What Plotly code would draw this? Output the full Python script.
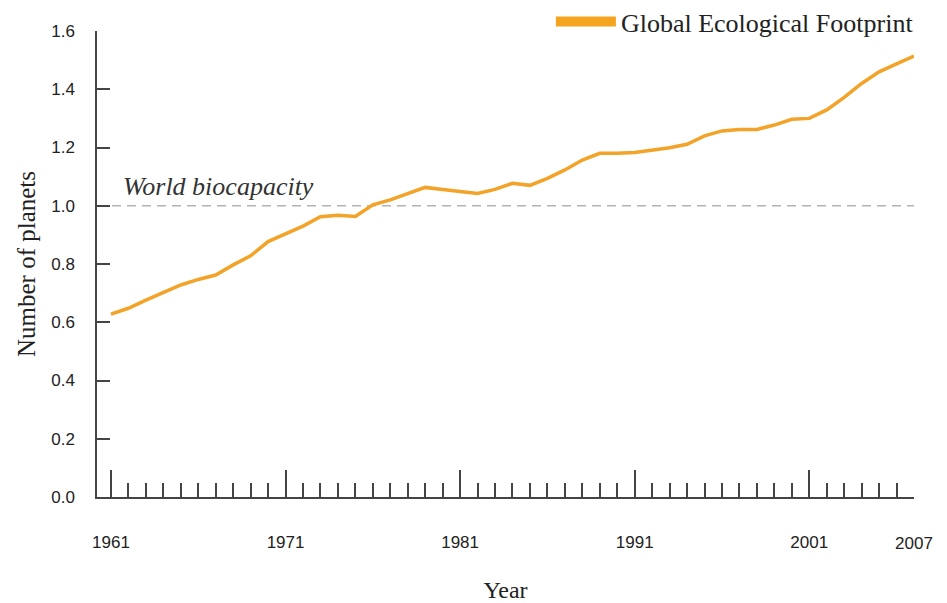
import plotly.graph_objects as go

years = list(range(1961, 2008))
footprint = [0.628, 0.648, 0.676, 0.703, 0.728, 0.747, 0.762, 0.797, 0.828, 0.877,
             0.902, 0.930, 0.962, 0.967, 0.963, 1.003, 1.020, 1.040, 1.063, 1.056,
             1.050, 1.042, 1.056, 1.077, 1.070, 1.094, 1.123, 1.157, 1.180, 1.180,
             1.183, 1.191, 1.199, 1.211, 1.240, 1.257, 1.262, 1.262, 1.277, 1.297,
             1.300, 1.329, 1.372, 1.420, 1.460, 1.487, 1.514]
biocapacity = 1.0
y_ticks = [0.0, 0.2, 0.4, 0.6, 0.8, 1.0, 1.2, 1.4, 1.6]
x_end_label = [2007]

ORANGE = "#F2A328"
AXIS = "#444444"
SANS = "Liberation Sans, Arial, sans-serif"
SERIF = "Liberation Serif, Times New Roman, serif"

fig = go.Figure()
fig.add_trace(go.Scatter(x=years, y=footprint, mode="lines",
                         line=dict(color=ORANGE, width=3.5),
                         showlegend=False, hoverinfo="x+y"))
# legend key (no data points), placed on the overlay axis that carries the 2007 label
fig.add_trace(go.Scatter(x=[None], y=[None], mode="lines", xaxis="x2",
                         line=dict(color="#F5A41F", width=10),
                         name="Global Ecological Footprint"))

fig.add_shape(type="line", xref="paper", x0=0, x1=1, yref="y", y0=biocapacity, y1=biocapacity,
              line=dict(color="#b3b3b3", width=1.5, dash="9px,6px"), layer="below")
fig.add_annotation(x=1961.6, y=biocapacity, xref="x", yref="y", text="<i>World biocapacity</i>",
                   showarrow=False, xanchor="left", yanchor="bottom", yshift=3,
                   font=dict(family=SERIF, size=26, color="#333333"))

fig.update_layout(
    width=939, height=595,
    margin=dict(l=89, r=33, t=23, b=106, autoexpand=False),
    paper_bgcolor="white", plot_bgcolor="white",
    legend=dict(x=1.006, xanchor="right", y=1.02, yanchor="middle",
                font=dict(family=SERIF, size=26, color="#222222"),
                itemwidth=60, bgcolor="rgba(0,0,0,0)"),
    xaxis=dict(range=[1960.2, 2007], tickmode="linear", tick0=1961, dtick=10,
               ticks="inside", ticklen=27, tickwidth=1.5, tickcolor=AXIS,
               showline=True, linecolor=AXIS, linewidth=1.5,
               showgrid=False, zeroline=False,
               minor=dict(ticks="inside", ticklen=14, tickwidth=1.5, tickcolor=AXIS,
                          tick0=1961, dtick=1, showgrid=False),
               tickfont=dict(family=SANS, size=17, color="#222222"),
               ticklabelstandoff=29,
               title=dict(text="Year", font=dict(family=SERIF, size=24, color="#222222"),
                          standoff=30)),
    xaxis2=dict(range=[1960.2, 2007], overlaying="x", anchor="y", side="bottom",
                tickmode="array", tickvals=x_end_label, ticktext=[str(v) for v in x_end_label],
                ticks="", showline=False, showgrid=False, zeroline=False,
                tickfont=dict(family=SANS, size=17, color="#222222"),
                ticklabelstandoff=34),
    yaxis=dict(range=[0, 1.6], tickmode="array", tickvals=y_ticks,
               ticktext=[f"{v:.1f}" for v in y_ticks],
               ticks="inside", ticklen=13, tickwidth=1.5, tickcolor=AXIS,
               showline=True, linecolor=AXIS, linewidth=1.5,
               showgrid=False, zeroline=False,
               tickfont=dict(family=SANS, size=17, color="#222222"),
               ticklabelstandoff=17,
               title=dict(text="Number of planets", font=dict(family=SERIF, size=25, color="#222222"),
                          standoff=8)),
)

fig.write_html("out.html")
